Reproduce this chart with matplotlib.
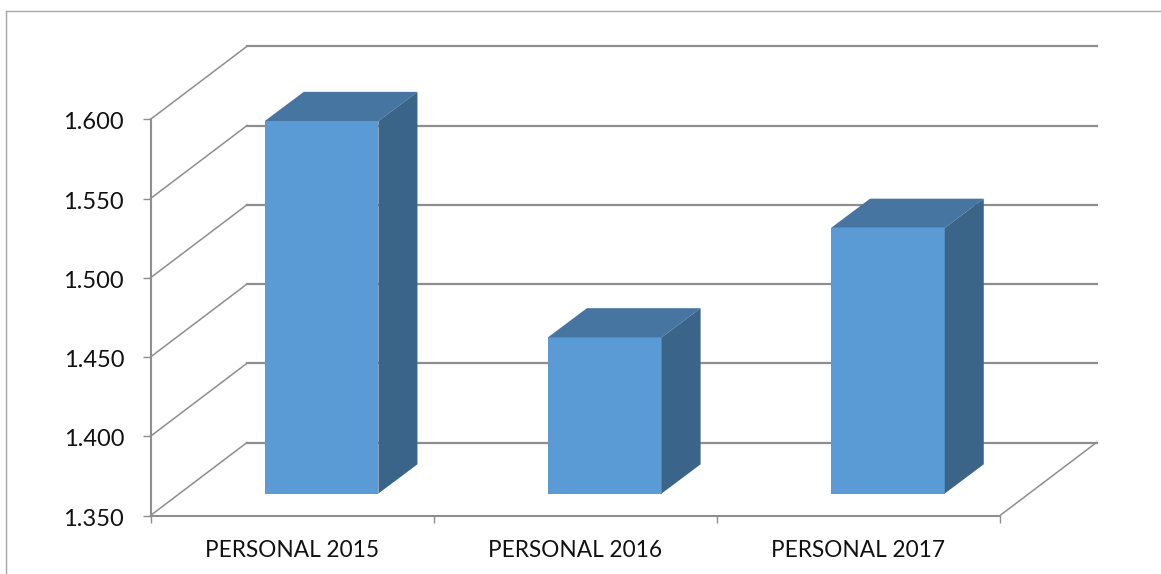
import matplotlib
matplotlib.use('Agg')
import matplotlib.pyplot as plt
from matplotlib.lines import Line2D
from matplotlib.transforms import ScaledTranslation

# Values
categories = ['PERSONAL 2015', 'PERSONAL 2016', 'PERSONAL 2017']
values = [1.585, 1.4485, 1.5176]
y_ticks = [1.350, 1.400, 1.450, 1.500, 1.550, 1.600]

W, H = 1161, 574
GRID = '#8e8e8e'

plt.rcParams['font.family'] = ['Lato', 'DejaVu Sans']

fig = plt.figure(figsize=(W / 100, H / 100), dpi=100)
ax = fig.add_axes([150.5 / W, (H - 515.5) / H, 849.5 / W, 396.2 / H])
ax.set_xlim(0, 3)
ax.set_ylim(1.35, 1.6)

# pixel offsets converted to data units, for the fake 3D depth
px_x = 3 / 849.5
px_y = 0.25 / 396.2
wall_dx = 96.5 * px_x
wall_dy = 73 * px_y
bar_front_dx = 29.5 * px_x
bar_front_dy = 22 * px_y
bar_dx = 39 * px_x
bar_dy = 29.2 * px_y
bar_w = 113.7 * px_x

# walls and floor
for v in y_ticks:
    ax.plot([0, wall_dx], [v, v + wall_dy], color=GRID, lw=1.1, clip_on=False, zorder=1)
    ax.plot([wall_dx, 3 + wall_dx], [v + wall_dy, v + wall_dy], color=GRID, lw=1.6, clip_on=False, zorder=1)
ax.plot([3, 3 + wall_dx], [1.35, 1.35 + wall_dy], color=GRID, lw=1.1, clip_on=False, zorder=1)

# bars: front, top and side faces
for i, v in enumerate(values):
    x0 = i + 0.5 - bar_w / 2 + bar_front_dx
    x1 = x0 + bar_w
    base = 1.35 + bar_front_dy
    top = base + (v - 1.35)
    ax.bar(x0, top - base, width=bar_w, bottom=base, align='edge', color='#5b9bd5', clip_on=False, zorder=3)
    ax.fill([x0, x1, x1 + bar_dx, x0 + bar_dx], [top, top, top + bar_dy, top + bar_dy],
            color='#4675a2', lw=0, clip_on=False, zorder=3)
    ax.fill([x1, x1 + bar_dx, x1 + bar_dx, x1], [base, base + bar_dy, top + bar_dy, top],
            color='#3a6488', lw=0, clip_on=False, zorder=3)

for side in ['top', 'right']:
    ax.spines[side].set_visible(False)
for side in ['left', 'bottom']:
    ax.spines[side].set_color(GRID)
    ax.spines[side].set_linewidth(1.5)

ax.set_yticks(y_ticks)
ax.set_yticklabels(['%.3f' % v for v in y_ticks], fontsize=17, color='#111111')
ax.set_xticks([0, 1, 2, 3])
ax.set_xticklabels([])
ax.tick_params(axis='y', length=6, width=1, color=GRID, pad=13)
ax.tick_params(axis='x', length=5, width=1, color=GRID)

# y labels sit a touch below their ticks in the original
nudge = ScaledTranslation(0, -1.2 / 72, fig.dpi_scale_trans)
for label in ax.get_yticklabels():
    label.set_transform(label.get_transform() + nudge)

for i, name in enumerate(categories):
    ax.annotate(name, (i + 0.5, 1.35), xytext=(0, -25), textcoords='offset points',
                ha='center', va='center', fontsize=16.3, color='#111111')

# chart frame, runs off the bottom of the image
frame = '#a6a6a6'
fig.add_artist(Line2D([5.5 / W, 5.5 / W], [0, (H - 10.5) / H], color=frame, lw=1))
fig.add_artist(Line2D([5.5 / W, 1], [(H - 10.5) / H, (H - 10.5) / H], color=frame, lw=1))

fig.savefig('out.png', dpi=100)
